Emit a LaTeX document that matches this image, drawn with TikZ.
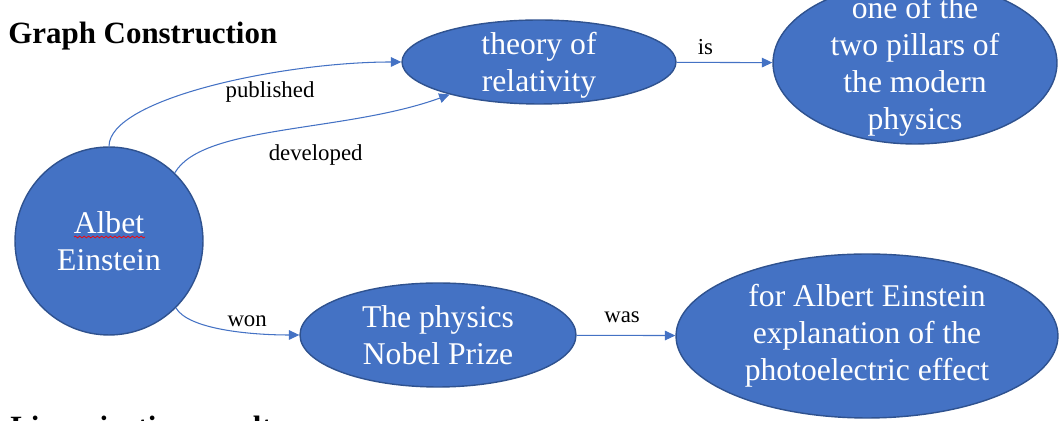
\documentclass[tikz,border=0pt]{standalone}
\usepackage{fontspec}
\setmainfont{Liberation Serif}
\usetikzlibrary{shapes.geometric,arrows.meta,decorations.pathmorphing}
\definecolor{conceptfill}{HTML}{4472C4}
\definecolor{conceptline}{HTML}{2F528F}
\begin{document}
\begin{tikzpicture}
[x=0.02cm,y=-0.02cm,
every node/.style={inner sep=0pt},
concept/.style={ellipse,fill=conceptfill,draw=conceptline,line width=0.8pt,inner sep=-2cm,
	text=white,align=center,font=\fontsize{18}{21}\selectfont},
relation/.style={draw=conceptfill,line width=0.6pt,-{Triangle[length=6pt,width=5.5pt]}},
relname/.style={inner sep=2pt,font=\fontsize{13}{15}\selectfont},
heading/.style={anchor=base west,font=\bfseries\fontsize{17.6}{20}\selectfont}]
\useasboundingbox (0,0) rectangle (1059,421);
\clip (0,0) rectangle (1059,421);
\node[heading] (title) at (8,44) {Graph Construction};
\node[heading] (next) at (10,438) {Linearization results};
\node[concept,circle,minimum size=3.76cm] (ein) at (109,241) {Albet\\Einstein};
\node[concept,text depth=-3pt,minimum width=5.48cm,minimum height=1.68cm] (thy) at (539,62) {theory of\\relativity};
\node[concept,text depth=-3pt,minimum width=5.68cm,minimum height=3.24cm] (pil) at (915,63) {one of the\\two pillars of\\the modern\\physics};
\node[concept,minimum width=5.52cm,minimum height=2.08cm] (nob) at (438,335) {The physics\\Nobel Prize};
\node[concept,minimum width=7.64cm,minimum height=3.28cm] (exp) at (867,336) {for Albert Einstein\\explanation of the\\photoelectric effect};
\draw[red,line width=0.4pt,decorate,decoration={snake,amplitude=0.5pt,segment length=2.5pt}] (74,237) -- (145,237);
\draw[relation] (ein.north) to[out=90,in=180,out looseness=0.4] node[relname,below=2pt,pos=0.66] {published} (thy.west);
\draw[relation] (ein.46) to[out=60,in=200,out looseness=0.5] node[relname,below=9pt,pos=0.6] {developed} (thy.200);
\draw[relation] (ein.-45) to[out=-60,in=180,out looseness=0.5] node[relname,above=1pt,pos=0.66] {won} (nob.west);
\draw[relation] (thy) -- node[relname,above=2pt,pos=0.3] {is} (pil);
\draw[relation] (nob) -- node[relname,above=5pt,pos=0.46] {was} (exp);
\end{tikzpicture}
\end{document}
